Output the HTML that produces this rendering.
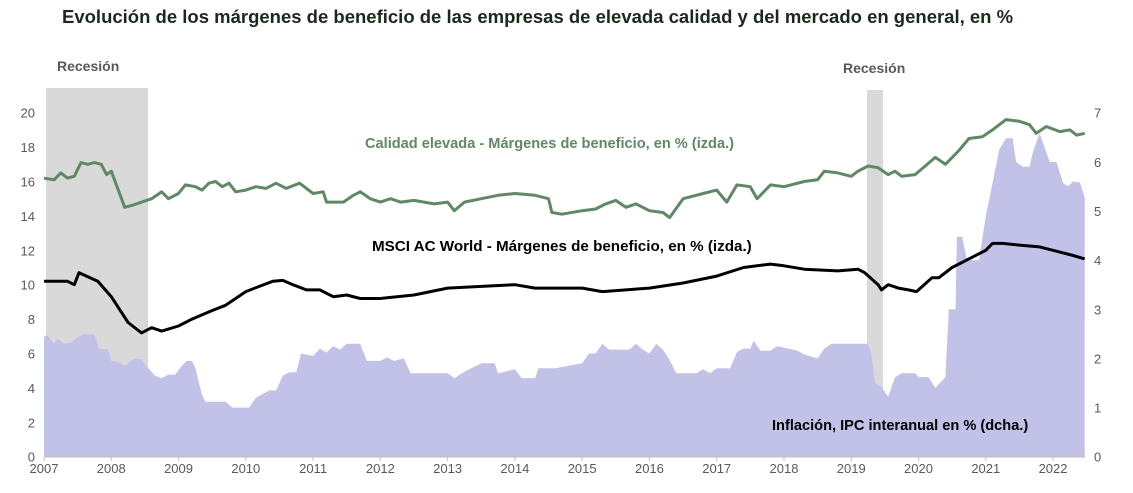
<!DOCTYPE html>
<html><head><meta charset="utf-8"><style>
body{margin:0;background:#fff;width:1133px;height:488px;overflow:hidden;font-family:"Liberation Sans",Arial,sans-serif}
</style></head><body>
<svg id="s" width="1133" height="488" xmlns="http://www.w3.org/2000/svg" font-family="Liberation Sans, Arial, sans-serif">
<text x="62" y="23" font-size="18.5" font-weight="bold" fill="#1a2a1a">Evolución de los márgenes de beneficio de las empresas de elevada calidad y del mercado en general, en %</text>
<rect x="46" y="88" width="102" height="369" fill="#d9d9d9"/>
<rect x="867" y="90" width="16" height="367" fill="#d9d9d9"/>
<text x="57" y="71" font-size="14" font-weight="bold" fill="#595959">Recesión</text>
<text x="843" y="73" font-size="14" font-weight="bold" fill="#595959">Recesión</text>
<g id="g"></g>
<line x1="44" y1="457" x2="1085" y2="457" stroke="#bfbfbf" stroke-width="1"/>
<text x="365" y="148" font-size="14.6" font-weight="bold" fill="#5e8a63">Calidad elevada - Márgenes de beneficio, en % (izda.)</text>
<text x="372" y="251" font-size="15.2" font-weight="bold" fill="#000">MSCI AC World - Márgenes de beneficio, en % (izda.)</text>
<text x="772" y="430" font-size="14.6" font-weight="bold" fill="#000">Inflación, IPC interanual en % (dcha.)</text>
<g id="ax" font-size="13" fill="#595959"></g>
</svg>
<script>
var X=function(t){return 44+(t-2007)*67.27};
var YL=function(v){return 456.7-v*17.2};
var YR=function(v){return 456.7-v*49.14};
var inf=[[2007,2.44],[2007.05,2.47],[2007.15,2.3],[2007.2,2.4],[2007.3,2.3],[2007.4,2.32],[2007.5,2.44],[2007.6,2.5],[2007.75,2.48],[2007.82,2.2],[2007.95,2.18],[2008,1.95],[2008.1,1.93],[2008.2,1.85],[2008.35,2.0],[2008.45,1.98],[2008.55,1.8],[2008.65,1.65],[2008.75,1.6],[2008.85,1.67],[2008.95,1.67],[2009.05,1.85],[2009.12,1.95],[2009.2,1.95],[2009.25,1.8],[2009.35,1.25],[2009.4,1.12],[2009.7,1.12],[2009.8,1.0],[2010.05,1.0],[2010.15,1.2],[2010.35,1.35],[2010.45,1.35],[2010.55,1.65],[2010.65,1.72],[2010.75,1.72],[2010.82,2.1],[2011,2.05],[2011.1,2.2],[2011.2,2.12],[2011.3,2.25],[2011.4,2.18],[2011.5,2.3],[2011.7,2.3],[2011.8,1.95],[2012,1.95],[2012.1,2.02],[2012.2,1.95],[2012.35,2.0],[2012.45,1.7],[2013,1.7],[2013.1,1.6],[2013.25,1.73],[2013.35,1.8],[2013.5,1.9],[2013.7,1.9],[2013.75,1.7],[2014,1.78],[2014.1,1.6],[2014.3,1.6],[2014.35,1.8],[2014.6,1.8],[2015,1.9],[2015.1,2.1],[2015.2,2.1],[2015.3,2.3],[2015.4,2.18],[2015.7,2.18],[2015.8,2.3],[2015.9,2.18],[2016,2.1],[2016.1,2.3],[2016.2,2.18],[2016.3,1.97],[2016.4,1.7],[2016.7,1.7],[2016.8,1.78],[2016.9,1.7],[2017,1.8],[2017.2,1.8],[2017.3,2.13],[2017.4,2.2],[2017.5,2.2],[2017.55,2.36],[2017.65,2.16],[2017.8,2.16],[2017.9,2.25],[2018.2,2.16],[2018.3,2.08],[2018.5,2.0],[2018.6,2.2],[2018.7,2.3],[2019.25,2.3],[2019.3,2.1],[2019.35,1.5],[2019.45,1.42],[2019.55,1.22],[2019.65,1.62],[2019.75,1.7],[2019.95,1.7],[2020,1.62],[2020.15,1.62],[2020.25,1.4],[2020.4,1.62],[2020.45,3.0],[2020.55,3.0],[2020.57,4.48],[2020.65,4.48],[2020.72,4.0],[2020.9,4.0],[2021,4.9],[2021.1,5.57],[2021.2,6.25],[2021.3,6.48],[2021.4,6.48],[2021.45,6.0],[2021.55,5.9],[2021.65,5.9],[2021.7,6.2],[2021.8,6.58],[2021.95,6.0],[2022.05,6.0],[2022.15,5.57],[2022.22,5.5],[2022.3,5.6],[2022.4,5.58],[2022.47,5.28]];
var gr=[[2007,16.2],[2007.15,16.1],[2007.25,16.5],[2007.35,16.2],[2007.45,16.3],[2007.55,17.1],[2007.65,17.0],[2007.75,17.1],[2007.85,17.0],[2007.93,16.4],[2008.0,16.6],[2008.2,14.5],[2008.3,14.6],[2008.6,15.0],[2008.75,15.4],[2008.85,15.0],[2009,15.3],[2009.1,15.8],[2009.25,15.7],[2009.35,15.5],[2009.45,15.9],[2009.55,16.0],[2009.65,15.7],[2009.75,15.9],[2009.85,15.4],[2010,15.5],[2010.15,15.7],[2010.3,15.6],[2010.45,15.9],[2010.6,15.6],[2010.8,15.9],[2011,15.3],[2011.15,15.4],[2011.2,14.8],[2011.45,14.8],[2011.6,15.2],[2011.7,15.4],[2011.85,15.0],[2012,14.8],[2012.15,15.0],[2012.3,14.8],[2012.5,14.9],[2012.8,14.7],[2013,14.8],[2013.1,14.3],[2013.25,14.8],[2013.5,15.0],[2013.75,15.2],[2014,15.3],[2014.3,15.2],[2014.5,15.0],[2014.55,14.2],[2014.7,14.1],[2015,14.3],[2015.2,14.4],[2015.35,14.7],[2015.5,14.9],[2015.65,14.5],[2015.8,14.7],[2015.9,14.5],[2016,14.3],[2016.2,14.2],[2016.3,13.9],[2016.5,15.0],[2016.8,15.3],[2017,15.5],[2017.15,14.8],[2017.3,15.8],[2017.5,15.7],[2017.6,15.0],[2017.8,15.8],[2018,15.7],[2018.3,16.0],[2018.5,16.1],[2018.6,16.6],[2018.8,16.5],[2019,16.3],[2019.1,16.6],[2019.25,16.9],[2019.4,16.8],[2019.55,16.4],[2019.65,16.6],[2019.75,16.3],[2019.95,16.4],[2020.1,16.9],[2020.25,17.4],[2020.4,17.0],[2020.6,17.8],[2020.75,18.5],[2020.95,18.6],[2021.1,19.0],[2021.3,19.6],[2021.5,19.5],[2021.65,19.3],[2021.75,18.8],[2021.9,19.2],[2022.1,18.9],[2022.25,19.0],[2022.35,18.7],[2022.47,18.8]];
var bk=[[2007,10.2],[2007.35,10.2],[2007.45,10.0],[2007.52,10.7],[2007.8,10.2],[2008,9.3],[2008.25,7.8],[2008.45,7.2],[2008.6,7.5],[2008.75,7.3],[2009,7.6],[2009.2,8.0],[2009.5,8.5],[2009.7,8.8],[2010,9.6],[2010.2,9.9],[2010.4,10.2],[2010.55,10.25],[2010.7,10.0],[2010.9,9.7],[2011.1,9.7],[2011.3,9.3],[2011.5,9.4],[2011.7,9.2],[2012,9.2],[2012.5,9.4],[2013,9.8],[2013.5,9.9],[2014,10.0],[2014.3,9.8],[2014.7,9.8],[2015,9.8],[2015.3,9.6],[2016,9.8],[2016.5,10.1],[2017,10.5],[2017.4,11.0],[2017.8,11.2],[2018,11.1],[2018.3,10.9],[2018.8,10.8],[2019.1,10.9],[2019.2,10.7],[2019.4,10.0],[2019.45,9.7],[2019.55,10.0],[2019.7,9.8],[2019.85,9.7],[2019.97,9.6],[2020.2,10.4],[2020.3,10.4],[2020.5,11.0],[2020.8,11.6],[2021,12.0],[2021.1,12.4],[2021.25,12.4],[2021.5,12.3],[2021.8,12.2],[2022,12.0],[2022.3,11.7],[2022.47,11.5]];
var ns="http://www.w3.org/2000/svg",g=document.getElementById("g"),ax=document.getElementById("ax");
function el(t,a,p){var e=document.createElementNS(ns,t);for(var k in a)e.setAttribute(k,a[k]);(p||g).appendChild(e);return e}
var d="M"+X(2007)+",457 "+inf.map(function(p){return "L"+X(p[0]).toFixed(1)+","+YR(p[1]).toFixed(1)}).join(" ")+" L"+X(2022.47)+",457Z";
el("path",{d:d,fill:"#c2c2e9"});
el("polyline",{points:gr.map(function(p){return X(p[0]).toFixed(1)+","+YL(p[1]).toFixed(1)}).join(" "),fill:"none",stroke:"#5e8a63","stroke-width":3,"stroke-linejoin":"round"});
el("polyline",{points:bk.map(function(p){return X(p[0]).toFixed(1)+","+YL(p[1]).toFixed(1)}).join(" "),fill:"none",stroke:"#000","stroke-width":3,"stroke-linejoin":"round"});
for(var v=0;v<=20;v+=2){var t=el("text",{x:35,y:YL(v)+5,"text-anchor":"end"},ax);t.textContent=v;}
for(var v=0;v<=7;v++){var t=el("text",{x:1094,y:YR(v)+5},ax);t.textContent=v;}
for(var y=2007;y<=2022;y++){var t=el("text",{x:X(y),y:473,"text-anchor":"middle"},ax);t.textContent=y;el("line",{x1:X(y),y1:457,x2:X(y),y2:461,stroke:"#bfbfbf"},ax);}
</script>
</body></html>
